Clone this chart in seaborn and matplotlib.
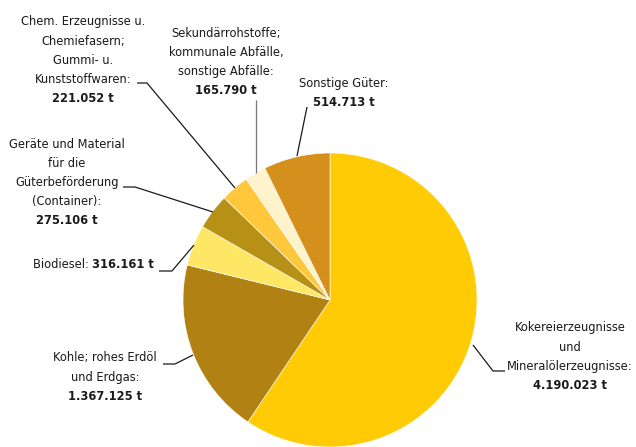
import matplotlib
matplotlib.use("Agg")
import matplotlib.pyplot as plt
import seaborn as sns

categories = [
    "Kokereierzeugnisse\nund\nMineralölerzeugnisse:",
    "Kohle; rohes Erdöl\nund Erdgas:",
    "Biodiesel:",
    "Geräte und Material\nfür die\nGüterbeförderung\n(Container):",
    "Chem. Erzeugnisse u.\nChemiefasern;\nGummi- u.\nKunststoffwaren:",
    "Sekundärrohstoffe;\nkommunale Abfälle,\nsonstige Abfälle:",
    "Sonstige Güter:",
]
values = [4190023, 1367125, 316161, 275106, 221052, 165790, 514713]
value_labels = ["4.190.023 t", "1.367.125 t", "316.161 t", "275.106 t",
                "221.052 t", "165.790 t", "514.713 t"]
colors = ["#FFCB05", "#B18213", "#FFE766", "#B79116", "#FFC83C", "#FFF3CC", "#D48F1D"]

sns.set_theme(style="white")
plt.rcParams['font.family'] = ['DejaVu Sans']
plt.rcParams['font.stretch'] = 'condensed'

W, H = 636, 447
CX, CY, R = 330, 300, 147
fig = plt.figure(figsize=(W / 100, H / 100), dpi=100)
ax = fig.add_axes([0, 0, 1, 1])

def P(px, py):
    return (px - CX, CY - py)

ax.pie(values, colors=colors, startangle=90, counterclock=False, radius=R,
       center=(0, 0), wedgeprops=dict(edgecolor='white', linewidth=0.4))
ax.set_xlim(-CX, W - CX)
ax.set_ylim(CY - H, CY)
ax.set_aspect('equal')
ax.axis('off')

FS = 9.2
LH = 19.2  # pixel line spacing

def block(cat_idx, cx, top_y, ha='center'):
    lines = categories[cat_idx].split("\n")
    for i, ln in enumerate(lines):
        ax.text(*P(cx, top_y + i * LH), ln, ha=ha, va='center', fontsize=FS,
                color='#1a1a1a', stretch='condensed')
    ax.text(*P(cx, top_y + len(lines) * LH), value_labels[cat_idx], ha=ha, va='center',
            fontsize=FS, fontweight='bold', color='#1a1a1a', stretch='condensed')

block(4, 83, 22)
block(5, 226, 33)
block(6, 344, 83)
block(3, 67, 144)
block(1, 105, 358)
block(0, 570, 328)

bt = ax.text(*P(154, 265), value_labels[2], ha='right', va='center', fontsize=FS,
             fontweight='bold', color='#1a1a1a', stretch='condensed')
ax.annotate(categories[2] + " ", xy=(0, 0.5), xycoords=bt, ha='right', va='center',
            fontsize=FS, color='#1a1a1a', stretch='condensed')

def leader(pts, color='#1a1a1a'):
    xs, ys = zip(*[P(*p) for p in pts])
    ax.plot(xs, ys, color=color, lw=0.9, solid_capstyle='butt')

leader([(137, 83), (147, 83), (235, 188)])
leader([(256, 100), (256, 173)], color='#777777')
leader([(307, 107), (297, 156)])
leader([(123, 187), (135, 187), (213, 212)])
leader([(159, 271), (172, 271), (194, 245)])
leader([(163, 364), (175, 364), (193, 355)])
leader([(473, 345), (493, 371), (505, 371)])

fig.savefig("out.png", dpi=100)
